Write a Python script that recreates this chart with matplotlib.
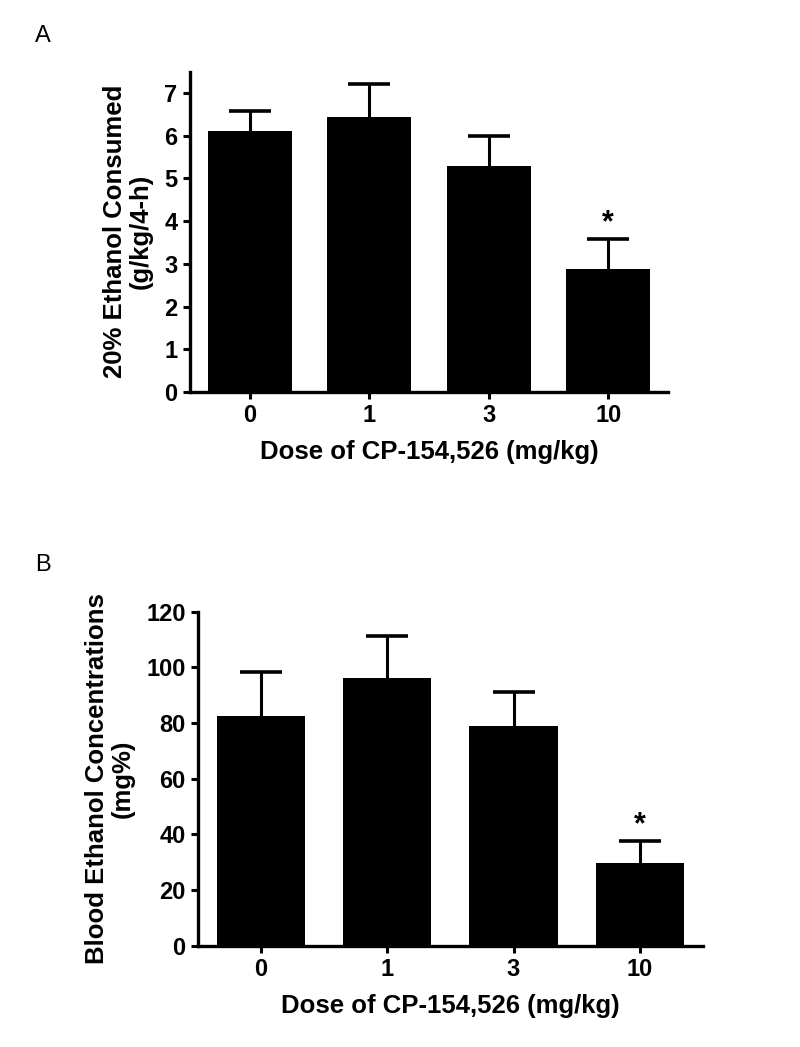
import matplotlib
matplotlib.use("Agg")
import matplotlib.pyplot as plt
import numpy as np

plt.rcParams["font.family"] = ["Liberation Sans", "DejaVu Sans"]

doses = ["0", "1", "3", "10"]

# panel A: 20% ethanol consumed (g/kg/4-h)
intake_mean = [6.10, 6.44, 5.28, 2.89]
intake_sem = [0.48, 0.78, 0.71, 0.70]

# panel B: blood ethanol concentrations (mg%)
bec_mean = [82.5, 96.0, 79.0, 29.6]
bec_sem = [15.7, 15.3, 12.2, 8.1]

sig_idx = [3]


def bar_panel(ax, means, sems, ylim, yticks, ylabel, star_pad):
    x = np.arange(len(means))
    # symmetric bars drawn underneath, so only the upper half shows
    ax.errorbar(x, means, yerr=sems, fmt="none", ecolor="black",
                elinewidth=2.2, capsize=15, capthick=2.6, zorder=1)
    ax.bar(x, means, width=0.7, color="black", zorder=2)
    for i in sig_idx:
        ax.text(x[i], means[i] + sems[i] + star_pad, "*", ha="center",
                va="bottom", fontsize=22, fontweight="bold")
    ax.set_xlim(-0.5, 3.5)
    ax.set_ylim(*ylim)
    ax.set_yticks(yticks)
    ax.set_xticks(x)
    ax.set_xticklabels(doses)
    for s in ("top", "right"):
        ax.spines[s].set_visible(False)
    for s in ("left", "bottom"):
        ax.spines[s].set_linewidth(2.4)
    ax.tick_params(direction="out", width=2.2, length=5, labelsize=17,
                   pad=4)
    for lab in ax.get_xticklabels() + ax.get_yticklabels():
        lab.set_fontweight("bold")
    ax.set_xlabel("Dose of CP-154,526 (mg/kg)", fontsize=18.5,
                  fontweight="bold", labelpad=9)
    ax.set_ylabel(ylabel, fontsize=18.5, fontweight="bold", labelpad=8,
                  linespacing=1.1)


fig = plt.figure(figsize=(8.0, 10.47), dpi=100)

ax_a = fig.add_axes([0.2375, 0.6256, 0.5975, 0.306])
bar_panel(ax_a, intake_mean, intake_sem, (0, 7.5), range(0, 8),
          "20% Ethanol Consumed\n(g/kg/4-h)", 0.0)

ax_b = fig.add_axes([0.2475, 0.0968, 0.631, 0.319])
bar_panel(ax_b, bec_mean, bec_sem, (0, 120), range(0, 121, 20),
          "Blood Ethanol Concentrations\n(mg%)", 0.0)

fig.text(0.054, 0.966, "A", fontsize=17, ha="center", va="center")
fig.text(0.054, 0.460, "B", fontsize=17, ha="center", va="center")

fig.savefig("out.png", dpi=100)
